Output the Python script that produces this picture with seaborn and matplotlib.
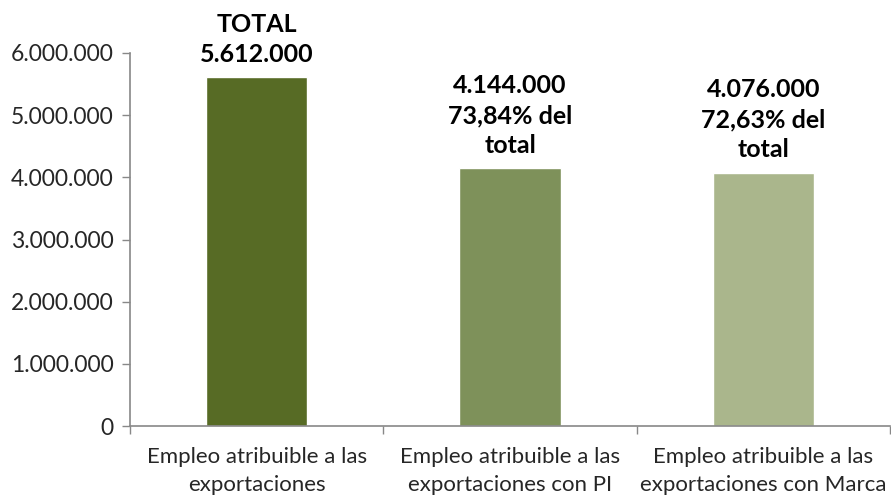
import matplotlib
matplotlib.use("Agg")
import matplotlib.pyplot as plt
import seaborn as sns
import pandas as pd

categorias = [
    "Empleo atribuible a las\nexportaciones",
    "Empleo atribuible a las\nexportaciones con PI",
    "Empleo atribuible a las\nexportaciones con Marca",
]
empleo = [5612000, 4144000, 4076000]
etiquetas = [
    "TOTAL\n5.612.000",
    "4.144.000\n73,84% del\ntotal",
    "4.076.000\n72,63% del\ntotal",
]
colores = ["#576B25", "#7E915A", "#AAB68C"]
yticks = [0, 1000000, 2000000, 3000000, 4000000, 5000000, 6000000]


def miles(v):
    return f"{int(v):,}".replace(",", ".")


sns.set_style("white")
plt.rcParams["font.family"] = ["Lato", "DejaVu Sans"]

df = pd.DataFrame({"cat": categorias, "empleo": empleo})

fig = plt.figure(figsize=(8.91, 4.99), dpi=100)
ax = fig.add_axes([0.146, 0.146, 0.853, 0.748])
sns.barplot(data=df, x="cat", y="empleo", hue="cat", palette=colores,
            width=0.4, legend=False, ax=ax, saturation=1)

for i, (v, t) in enumerate(zip(empleo, etiquetas)):
    ax.text(i, v + 180000, t, ha="center", va="bottom", fontsize=18,
            fontweight="bold", linespacing=1.38, color="black")

ax.set_ylim(0, 6000000)
ax.set_xlim(-0.5, 2.5)
ax.set_yticks(yticks)
ax.set_yticklabels([miles(v) for v in yticks], fontsize=16.5)
ax.set_xlabel("")
ax.set_ylabel("")
ax.tick_params(axis="x", labelsize=16, length=0, pad=15)
for lbl in ax.get_xticklabels():
    lbl.set_linespacing(1.5)
ax.tick_params(axis="y", length=6, width=1, color="#888888", left=True, pad=6)

# ticks between categories on the x axis
ax.set_xticks([-0.5, 0.5, 1.5, 2.5], minor=True)
ax.tick_params(axis="x", which="minor", length=6, width=1, color="#888888",
               bottom=True)

for s in ["top", "right"]:
    ax.spines[s].set_visible(False)
for s in ["left", "bottom"]:
    ax.spines[s].set_color("#888888")
    ax.spines[s].set_linewidth(1.2)

fig.savefig("out.png", dpi=100)
